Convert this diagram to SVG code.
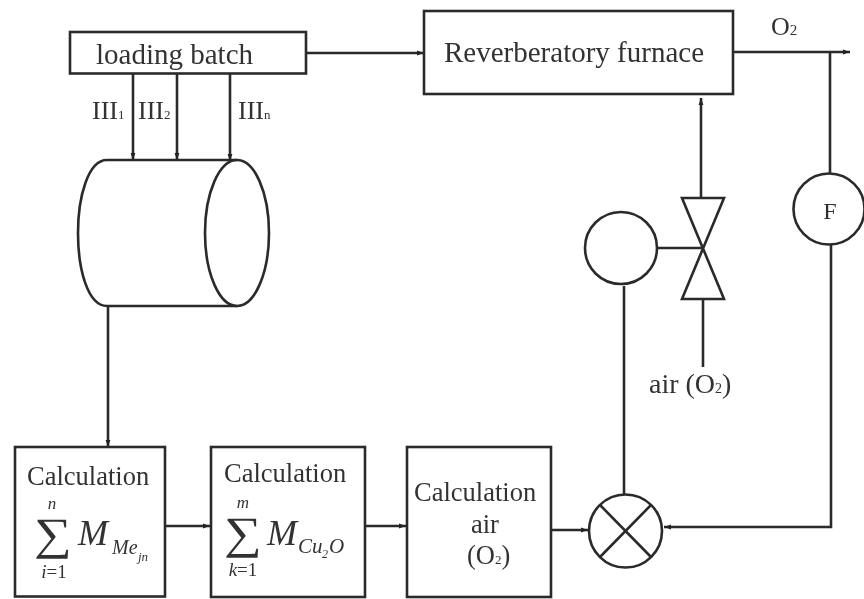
<svg xmlns="http://www.w3.org/2000/svg" width="864" height="599" viewBox="0 0 864 599">
<defs>
<filter id="soft" x="-2%" y="-2%" width="104%" height="104%"><feGaussianBlur stdDeviation="0.55"/></filter>
<marker id="arr" markerWidth="8" markerHeight="6" refX="7" refY="3" orient="auto" markerUnits="userSpaceOnUse"><path d="M0,0.6 L7,3 L0,5.4 Z" fill="#222"/></marker>
</defs>
<style>
.s{fill:none;stroke:#2a2a2a;stroke-width:2.6}
.b{fill:#fff;stroke:#2a2a2a;stroke-width:2.6}
.c{fill:none;stroke:#2a2a2a;stroke-width:2.6;marker-end:url(#arr)}
text{font-family:"Liberation Serif","Times New Roman",serif;fill:#333}
.l{font-size:29px}
.m{font-size:26.500px}
.t{font-size:26px}
.sub{font-size:13px}
.i{font-style:italic}
</style>
<rect width="864" height="599" fill="#fff"/>
<g filter="url(#soft)">
<g id="connectors">
<path class="c" d="M306,53 H424"/>
<path class="c" d="M133,74 V160"/>
<path class="c" d="M177,74 V160"/>
<path class="c" d="M230,74 V161"/>
<path class="c" d="M108,306 V447"/>
<path class="c" d="M165,526 H210"/>
<path class="c" d="M365,526 H406"/>
<path class="c" d="M551,530 H588"/>
<path class="c" d="M733,52 H850"/>
<path class="s" d="M830,52 V173"/>
<path class="c" d="M831,245 V527 H664"/>
<path class="s" d="M624,286 V495"/>
<path class="s" d="M657,248 H703"/>
<path class="c" d="M701,198 V98"/>
<path class="s" d="M703,299 V367"/>
</g>
<g id="loading-batch"><rect class="b" x="70" y="32" width="236" height="41.500"/><text class="l" x="96" y="64">loading batch</text></g>
<g id="shaft-labels">
<text class="t" x="92" y="119">III<tspan class="sub">1</tspan></text>
<text class="t" x="138" y="119">III<tspan class="sub">2</tspan></text>
<text class="t" x="238" y="119">III<tspan class="sub">n</tspan></text>
</g>
<g id="furnace"><rect class="b" x="424" y="11" width="309" height="83"/><text class="l" x="444" y="62">Reverberatory furnace</text></g>
<g id="o2-label"><text x="771" y="35" font-size="26">O<tspan font-size="15">2</tspan></text></g>
<g id="drum">
<path class="s" d="M237,160 H107 C88,160 78,197 78,233 C78,270 88,306 107,306 H237"/>
<ellipse class="s" cx="237" cy="233" rx="32" ry="73"/>
</g>
<g id="flow-sensor"><circle class="b" cx="829" cy="209" r="35.500"/><text x="830" y="219" font-size="24" text-anchor="middle">F</text></g>
<g id="actuator"><circle class="b" cx="621" cy="248" r="36"/></g>
<g id="valve"><path class="s" d="M682,198 H724 L682,299 H724 Z"/></g>
<g id="air-label"><text x="649" y="393" font-size="28">air (O<tspan font-size="14">2</tspan>)</text></g>
<g id="mixer"><circle class="b" cx="625.500" cy="531" r="36.500"/><path class="s" d="M600,505 L651,557 M651,505 L600,557"/></g>
<g id="calc-1">
<rect class="b" x="15" y="447" width="150" height="149.500"/>
<text class="m" x="27" y="485">Calculation</text>
<text font-size="53" text-anchor="middle" transform="translate(53,548.500) scale(1,0.85)">∑</text>
<text class="i" x="52" y="509" font-size="17" text-anchor="middle">n</text>
<text x="54" y="578" font-size="19" text-anchor="middle"><tspan class="i">i</tspan>=1</text>
<text class="i" x="78" y="545" font-size="36">M</text>
<text class="i" x="112" y="554" font-size="20">Me</text>
<text class="i" x="138" y="561" font-size="13">jn</text>
</g>
<g id="calc-2">
<rect class="b" x="211" y="447" width="154" height="150"/>
<text class="m" x="224" y="482">Calculation</text>
<text font-size="53" text-anchor="middle" transform="translate(243,547.500) scale(1,0.85)">∑</text>
<text class="i" x="243" y="508" font-size="17" text-anchor="middle">m</text>
<text x="243" y="576" font-size="19" text-anchor="middle"><tspan class="i">k</tspan>=1</text>
<text class="i" x="267" y="545" font-size="36">M</text>
<text class="i" x="298" y="553" font-size="21">Cu</text>
<text class="i" x="322" y="558" font-size="12">2</text>
<text class="i" x="329" y="553" font-size="21">O</text>
</g>
<g id="calc-3">
<rect class="b" x="407" y="447" width="144" height="150"/>
<text class="m" x="414" y="501">Calculation</text>
<text class="m" x="471" y="533">air</text>
<text class="m" x="467" y="564">(O<tspan class="sub">2</tspan>)</text>
</g>
</g>
</svg>
